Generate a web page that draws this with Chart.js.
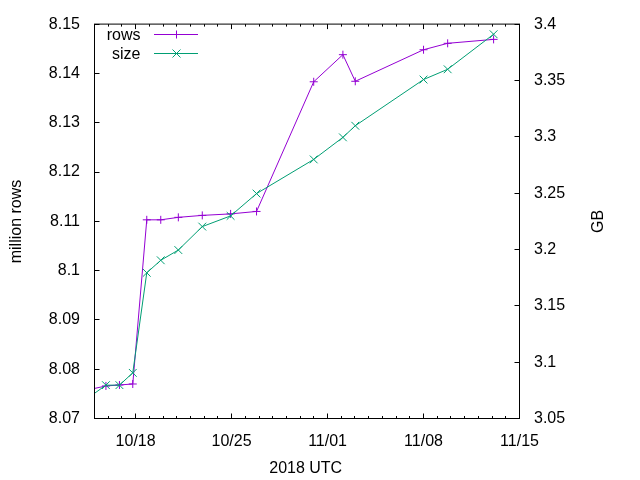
<!DOCTYPE html>
<html><head><meta charset="utf-8">
<script src="https://cdn.jsdelivr.net/npm/chart.js@4.4.0/dist/chart.umd.min.js"></script>
<style>html,body{margin:0;padding:0;background:#fff;}canvas{display:block;}</style>
</head><body>
<canvas id="c" width="640" height="480"></canvas>
<script>
// ---- data ----
const timestamps = [
  "2018-10-14T20:00:00Z","2018-10-15T20:00:00Z","2018-10-16T19:40:00Z","2018-10-17T19:00:00Z",
  "2018-10-18T19:30:00Z","2018-10-19T20:00:00Z","2018-10-21T02:45:00Z","2018-10-22T20:40:00Z",
  "2018-10-24T22:15:00Z","2018-10-26T19:40:00Z","2018-10-30T23:45:00Z","2018-11-02T02:50:00Z",
  "2018-11-03T00:30:00Z","2018-11-08T00:00:00Z","2018-11-09T18:15:00Z","2018-11-13T02:40:00Z"
];
const rowsMillions = [
  8.0760, 8.0766, 8.0768, 8.0770, 8.1103, 8.1103, 8.1108, 8.1112,
  8.1115, 8.1120, 8.1383, 8.1438, 8.1384, 8.1448, 8.1461, 8.1469
];
const sizeGB = [
  3.0709, 3.0796, 3.0796, 3.0905, 3.1793, 3.1904, 3.1995, 3.2203,
  3.2298, 3.2496, 3.2799, 3.2995, 3.3098, 3.3508, 3.3599, 3.3910
];
const xRange = ["2018-10-15T00:00:00Z", "2018-11-15T00:00:00Z"];
const xTickDates = ["2018-10-18T00:00:00Z","2018-10-25T00:00:00Z","2018-11-01T00:00:00Z","2018-11-08T00:00:00Z","2018-11-15T00:00:00Z"];
const leftTickValues = [8.07, 8.08, 8.09, 8.1, 8.11, 8.12, 8.13, 8.14, 8.15];
const rightTickValues = [3.05, 3.1, 3.15, 3.2, 3.25, 3.3, 3.35, 3.4];
const seriesNames = ["rows", "size"];
const axisTitles = {x: "2018 UTC", y: "million rows", y2: "GB"};

// ---- helpers ----
const DAY = 86400000;
const toDay = s => Date.parse(s) / DAY;
const pad2 = n => (n < 10 ? "0" : "") + n;
const fmtDate = v => { const d = new Date(Math.round(v * DAY)); return pad2(d.getUTCMonth() + 1) + "/" + pad2(d.getUTCDate()); };
const fmtNum = v => String(Math.round(v * 100) / 100);

const COL_ROWS = "#9400D3", COL_SIZE = "#009E73";
const FONT = "'Liberation Sans', Arial, sans-serif";
const FS = 16;

const xMin = toDay(xRange[0]), xMax = toDay(xRange[1]);
const rowsData = timestamps.map((t, i) => ({x: toDay(t), y: rowsMillions[i]}));
const sizeData = timestamps.map((t, i) => ({x: toDay(t), y: sizeGB[i]}));
const inRange = ctx => ctx.raw && ctx.raw.x >= xMin && ctx.raw.x <= xMax;

Chart.defaults.font.family = FONT;
Chart.defaults.font.size = FS;
Chart.defaults.color = "#000";

const framePlugin = {
  id: "frame",
  afterDraw(chart) {
    const {ctx, chartArea: a, scales} = chart;
    ctx.save();
    ctx.strokeStyle = "#000";
    ctx.lineWidth = 1;
    ctx.beginPath();
    const crisp = p => Math.floor(p) + 0.5;
    const xs = scales.x;
    const majors = xTickDates.map(toDay);
    for (let d = xMin; d <= xMax + 1e-6; d += 1) {
      const px = crisp(xs.getPixelForValue(d));
      const isMajor = majors.some(m => Math.abs(m - d) < 1e-6);
      const len = isMajor ? 5 : 2.5;
      ctx.moveTo(px, a.bottom); ctx.lineTo(px, a.bottom - len);
      ctx.moveTo(px, a.top); ctx.lineTo(px, a.top + len);
    }
    scales.y.ticks.forEach(t => {
      const py = crisp(scales.y.getPixelForValue(t.value));
      ctx.moveTo(a.left, py); ctx.lineTo(a.left + 5, py);
    });
    scales.y2.ticks.forEach(t => {
      const py = crisp(scales.y2.getPixelForValue(t.value));
      ctx.moveTo(a.right, py); ctx.lineTo(a.right - 5, py);
    });
    ctx.stroke();
    ctx.strokeRect(a.left, a.top, a.right - a.left, a.bottom - a.top);

    // axis titles
    ctx.fillStyle = "#000";
    ctx.font = FS + "px " + FONT;
    ctx.textAlign = "center";
    ctx.textBaseline = "alphabetic";
    ctx.fillText(axisTitles.x, 305.7, 472.5);
    ctx.save();
    ctx.translate(20.5, 221.5);
    ctx.rotate(-Math.PI / 2);
    ctx.fillText(axisTitles.y, 0, 0);
    ctx.restore();
    ctx.save();
    ctx.translate(602.5, 221.5);
    ctx.rotate(-Math.PI / 2);
    ctx.fillText(axisTitles.y2, 0, 0);
    ctx.restore();

    // key
    const keys = [
      {name: seriesNames[0], color: COL_ROWS, style: "plus", y: 34.5, base: 39.5},
      {name: seriesNames[1], color: COL_SIZE, style: "x", y: 53.5, base: 58.5}
    ];
    keys.forEach(k => {
      ctx.fillStyle = "#000";
      ctx.textAlign = "right";
      ctx.fillText(k.name, 140.5, k.base);
      ctx.strokeStyle = k.color;
      ctx.beginPath();
      ctx.moveTo(154, k.y); ctx.lineTo(198, k.y);
      const cx = 176.5, r = 4;
      if (k.style === "plus") {
        ctx.moveTo(cx - r, k.y); ctx.lineTo(cx + r, k.y);
        ctx.moveTo(cx, k.y - r); ctx.lineTo(cx, k.y + r);
      } else {
        ctx.moveTo(cx - r, k.y - r); ctx.lineTo(cx + r, k.y + r);
        ctx.moveTo(cx - r, k.y + r); ctx.lineTo(cx + r, k.y - r);
      }
      ctx.stroke();
    });
    ctx.restore();
  }
};

new Chart(document.getElementById("c"), {
  type: "line",
  data: {
    datasets: [
      {
        label: seriesNames[0], data: rowsData, yAxisID: "y", order: 2,
        borderColor: COL_ROWS, backgroundColor: COL_ROWS, borderWidth: 1,
        pointStyle: "cross", pointRadius: ctx => inRange(ctx) ? 4 : 0,
        pointBorderWidth: 1, pointBorderColor: COL_ROWS, tension: 0, clip: 0, fill: false
      },
      {
        label: seriesNames[1], data: sizeData, yAxisID: "y2", order: 1,
        borderColor: COL_SIZE, backgroundColor: COL_SIZE, borderWidth: 1,
        pointStyle: "crossRot", pointRadius: ctx => inRange(ctx) ? 5.5 : 0,
        pointBorderWidth: 1, pointBorderColor: COL_SIZE, tension: 0, clip: 0, fill: false
      }
    ]
  },
  options: {
    responsive: false,
    animation: false,
    devicePixelRatio: 1,
    layout: {padding: {top: 20.5, left: 0, right: 0, bottom: 0}},
    plugins: {legend: {display: false}, tooltip: {enabled: false}},
    events: [],
    scales: {
      x: {
        type: "linear", position: "bottom", min: xMin, max: xMax,
        grid: {display: false, drawTicks: false, tickLength: 0},
        border: {display: false},
        afterBuildTicks: s => { s.ticks = xTickDates.map(d => ({value: toDay(d)})); },
        afterFit: s => { s.height = 61.5; },
        ticks: {padding: 13, maxRotation: 0, autoSkip: false, callback: v => fmtDate(v)}
      },
      y: {
        type: "linear", position: "left", min: leftTickValues[0], max: leftTickValues[leftTickValues.length - 1],
        grid: {display: false, drawTicks: false, tickLength: 0},
        border: {display: false},
        afterBuildTicks: s => { s.ticks = leftTickValues.map(v => ({value: v})); },
        afterFit: s => { s.width = 94.5; },
        ticks: {padding: 14.5, autoSkip: false, callback: v => fmtNum(v)}
      },
      y2: {
        type: "linear", position: "right", min: rightTickValues[0], max: rightTickValues[rightTickValues.length - 1],
        grid: {display: false, drawTicks: false, tickLength: 0},
        border: {display: false},
        afterBuildTicks: s => { s.ticks = rightTickValues.map(v => ({value: v})); },
        afterFit: s => { s.width = 120.5; },
        ticks: {padding: 14.5, autoSkip: false, callback: v => fmtNum(v)}
      }
    }
  },
  plugins: [framePlugin]
});
</script>
</body></html>
